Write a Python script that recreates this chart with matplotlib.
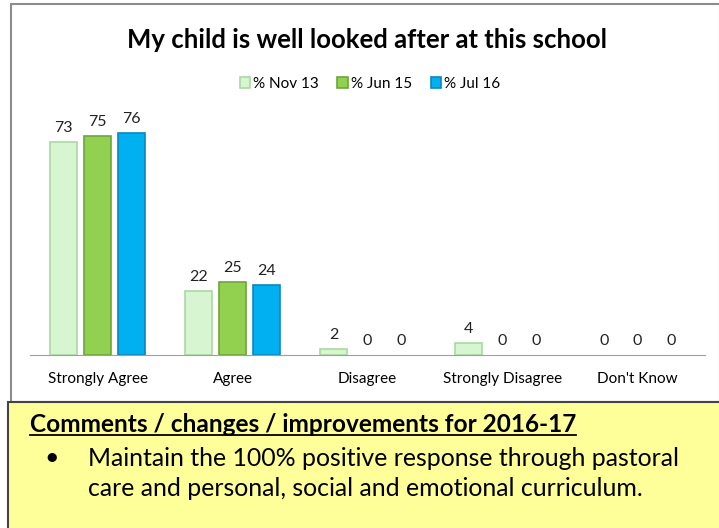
import matplotlib
matplotlib.use("Agg")
import matplotlib.pyplot as plt
from matplotlib.patches import Rectangle
import numpy as np

categories = ["Strongly Agree", "Agree", "Disagree", "Strongly Disagree", "Don't Know"]
series_names = ["% Nov 13", "% Jun 15", "% Jul 16"]
nov13 = [73, 22, 2, 4, 0]
jun15 = [75, 25, 0, 0, 0]
jul16 = [76, 24, 0, 0, 0]

title = "My child is well looked after at this school"
comment_head = "Comments / changes / improvements for 2016-17"
comment_lines = ["Maintain the 100% positive response through pastoral",
                 "care and personal, social and emotional curriculum."]

face_colors = ["#d8f5d2", "#92d050", "#00b0f0"]
edge_colors = ["#a9d9a0", "#6ea53a", "#0a86bd"]

plt.rcParams['font.family'] = ['Lato', 'DejaVu Sans']

W, H = 719, 528
fig = plt.figure(figsize=(W / 100, H / 100), dpi=100)

# pixel coords -> figure fractions
def fx(px):
    return px / W

def fy(py):
    return 1 - py / H

fig.patches.append(Rectangle((fx(11), fy(402)), fx(720) - fx(11), fy(4) - fy(402),
                             transform=fig.transFigure, facecolor="white",
                             edgecolor="#8c8c8c", linewidth=1.5, zorder=-10))
fig.patches.append(Rectangle((fx(8), fy(530)), fx(722), fy(402) - fy(530),
                             transform=fig.transFigure, facecolor="#ffff99",
                             edgecolor="#444444", linewidth=1.5, zorder=-9))

ax = fig.add_axes([fx(30), fy(355), fx(705) - fx(30), fy(110) - fy(355)])
ax.set_facecolor("none")

x = np.arange(len(categories))
width = 0.2
offsets = [-0.25, 0, 0.25]
for vals, off, fc, ec, name in zip([nov13, jun15, jul16], offsets, face_colors, edge_colors, series_names):
    lw = [1.2 if v > 0 else 0 for v in vals]
    bars = ax.bar(x + off, vals, width, color=fc, edgecolor=ec, linewidth=lw, label=name)
    for b, v in zip(bars, vals):
        ax.text(b.get_x() + b.get_width() / 2, v + 2.5, str(v), ha="center", va="bottom",
                fontsize=11.5, color="#222222")

ax.set_xlim(-0.5, len(categories) - 0.5)
ax.set_ylim(0, 84)
ax.set_yticks([])
ax.set_xticks(x)
ax.set_xticklabels(categories, fontsize=11)
ax.tick_params(axis="x", length=0, pad=12)
for s in ["top", "right", "left"]:
    ax.spines[s].set_visible(False)
ax.spines["bottom"].set_color("#a0a0a0")

fig.text(fx(367), fy(40), title, ha="center", va="center", fontsize=18.5, fontweight="bold")
fig.legend(loc="center", bbox_to_anchor=(fx(370), fy(84)), ncol=3, frameon=False,
           fontsize=11, handlelength=0.7, handleheight=0.7, columnspacing=1.2,
           handletextpad=0.2)

head = fig.text(fx(30), fy(425), comment_head, ha="left", va="center",
                fontsize=17.6, fontweight="bold")
fig.canvas.draw()
bb = head.get_window_extent().transformed(fig.transFigure.inverted())
fig.add_artist(plt.Line2D([bb.x0, bb.x1], [bb.y0 + 0.002, bb.y0 + 0.002],
                          transform=fig.transFigure, color="black", linewidth=1.3))

fig.text(fx(52), fy(457), "\u2022", ha="center", va="center", fontsize=18)
for i, line in enumerate(comment_lines):
    fig.text(fx(88), fy(458 + 30 * i), line, ha="left", va="center", fontsize=17.9)

fig.savefig("out.png", dpi=100)
